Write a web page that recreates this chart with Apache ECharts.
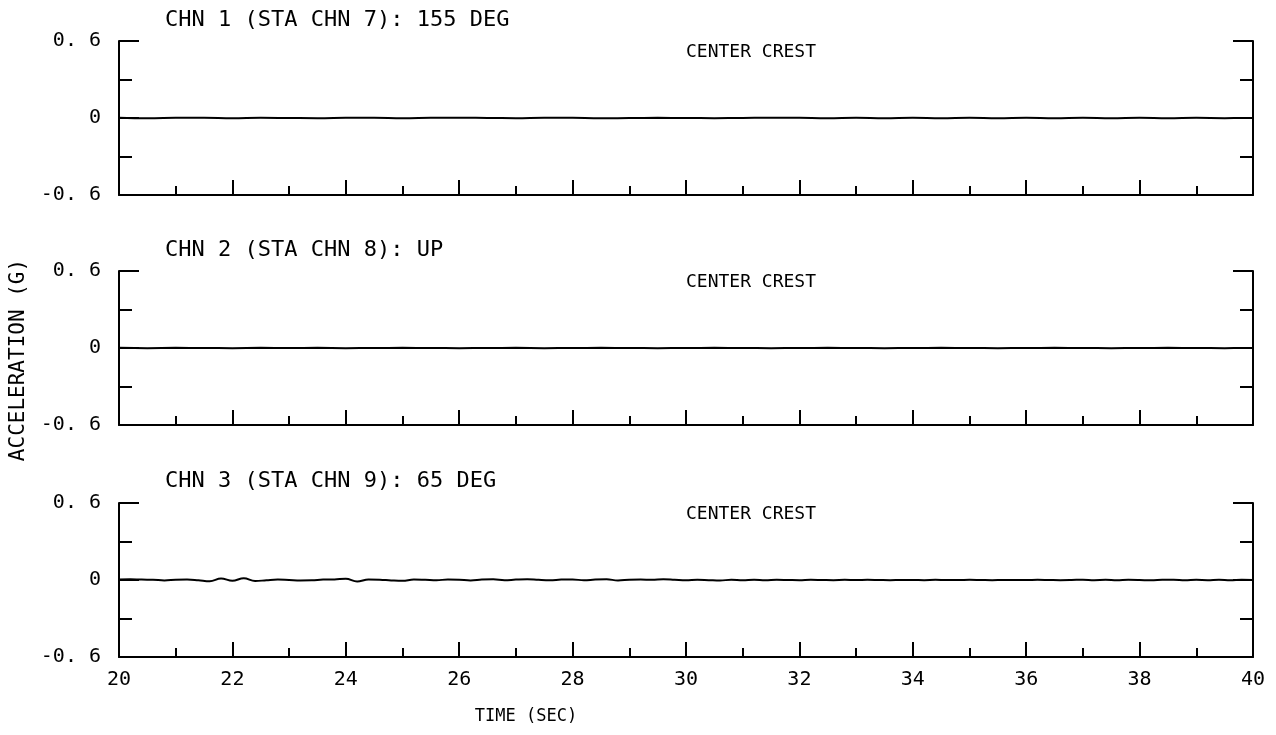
<!DOCTYPE html>
<html>
<head>
<meta charset="utf-8">
<script src="https://cdn.jsdelivr.net/npm/echarts@6/dist/echarts.min.js"></script>
<style>html,body{margin:0;padding:0;background:#fff}#c{width:1276px;height:735px}</style>
</head>
<body>
<div id="c"></div>
<script>
// ---- data ----
var panelTitles = ['CHN 1 (STA CHN 7): 155 DEG', 'CHN 2 (STA CHN 8): UP', 'CHN 3 (STA CHN 9): 65 DEG'];
var panelNote = 'CENTER CREST';
var xTitle = 'TIME (SEC)';
var yTitle = 'ACCELERATION (G)';
var xTickLabels = [20, 22, 24, 26, 28, 30, 32, 34, 36, 38, 40];
var yTickLabels = { '-0.6': '-0. 6', '0': '0', '0.6': '0. 6' };
var tStart = 20;
var stepCoarse = 0.5;
var stepFine = 0.2;
// CHN 1, sampled every 0.5 s from 20 s
var chn1 = [
  0.002, -0.002, 0.001, 0.002, -0.001, 0.002, 0.000, -0.002, 0.001, 0.002,
  -0.002, 0.001, 0.002, 0.000, -0.001, 0.002, 0.001, -0.002, 0.000, 0.001,
  0.000, -0.001, 0.000, 0.002, 0.001, -0.002, 0.002, -0.002, 0.001, -0.002,
  0.002, -0.002, 0.001, -0.002, 0.002, -0.001, 0.002, -0.002, 0.001, -0.001,
  0.000
];
// CHN 2, sampled every 0.5 s from 20 s
var chn2 = [
  0.001, -0.001, 0.001, 0.000, -0.001, 0.001, 0.000, 0.001, -0.001, 0.000,
  0.001, 0.000, -0.001, 0.000, 0.001, -0.001, 0.000, 0.001, 0.000, -0.001,
  0.000, 0.001, 0.000, -0.001, 0.000, 0.001, 0.000, -0.001, 0.000, 0.001,
  0.000, -0.001, 0.000, 0.001, 0.000, -0.001, 0.000, 0.001, 0.000, -0.001,
  0.000
];
// CHN 3, sampled every 0.2 s from 20 s
var chn3 = [
  0.004, 0.006, 0.003, 0.002, -0.003, 0.002, 0.004, -0.002, -0.010, 0.012,
  -0.006, 0.014, -0.008, -0.002, 0.003, 0.000, -0.003, -0.002, 0.003, 0.004,
  0.010, -0.012, 0.004, 0.002, -0.003, -0.006, 0.003, 0.001, -0.002, 0.004,
  0.002, -0.003, 0.003, 0.005, -0.002, 0.003, 0.006, 0.001, -0.002, 0.003,
  0.004, -0.002, 0.003, 0.005, -0.003, 0.002, 0.004, 0.001, 0.006, 0.002,
  -0.002, 0.002, -0.001, -0.004, 0.002, -0.002, 0.001, -0.002, 0.002, 0.000,
  -0.002, 0.001, 0.000, -0.001, 0.001, 0.000, 0.001, 0.000, -0.001, 0.000,
  0.000, -0.001, 0.001, 0.000, 0.000, 0.001, 0.000, -0.001, 0.000, 0.000,
  0.000, 0.001, 0.000, -0.001, 0.000, 0.002, -0.001, 0.001, -0.002, 0.001,
  0.000, -0.002, 0.001, 0.002, -0.002, 0.001, -0.001, 0.002, -0.002, 0.002,
  0.000
];

// ---- build ----
function pairs(vals, step) {
  return vals.map(function (v, i) { return [+(tStart + i * step).toFixed(3), v]; });
}
var seriesData = [pairs(chn1, stepCoarse), pairs(chn2, stepCoarse), pairs(chn3, stepFine)];

var FONT = 'DejaVu Sans Mono';
var gridTops = [41, 271, 503];
var gridH = 154;
var noteY = [52, 282, 514];
var titleY = [20, 250, 481];

var grids = [], xAxes = [], yAxes = [], series = [], graphics = [];
gridTops.forEach(function (top, i) {
  grids.push({ left: 119, right: 23, top: top, height: gridH, containLabel: false });
  xAxes.push({
    type: 'value', gridIndex: i, min: 20, max: 40, interval: 2,
    axisLine: { show: true, onZero: false, lineStyle: { color: '#000', width: 2 } },
    axisTick: { show: true, inside: true, length: 15, lineStyle: { color: '#000', width: 2 } },
    minorTick: { show: true, splitNumber: 2, length: 9, lineStyle: { color: '#000', width: 2 } },
    splitLine: { show: false },
    axisLabel: {
      show: i === 2, margin: 13, color: '#000', fontFamily: FONT, fontSize: 20,
      formatter: function (v) { return xTickLabels.indexOf(v) >= 0 ? String(v) : ''; }
    }
  });
  ['left', 'right'].forEach(function (pos) {
    yAxes.push({
      type: 'value', gridIndex: i, position: pos, min: -0.6, max: 0.6, interval: 0.6,
      axisLine: { show: true, onZero: false, lineStyle: { color: '#000', width: 2 } },
      axisTick: { show: true, inside: true, length: 20, lineStyle: { color: '#000', width: 2 } },
      minorTick: { show: true, splitNumber: 2, length: 13, lineStyle: { color: '#000', width: 2 } },
      splitLine: { show: false },
      axisLabel: {
        show: pos === 'left', margin: 18, color: '#000', fontFamily: FONT, fontSize: 20,
        formatter: function (v) {
          var k = String(Math.round(v * 10) / 10);
          return yTickLabels[k] !== undefined ? yTickLabels[k] : '';
        }
      }
    });
  });
  series.push({
    type: 'line', xAxisIndex: i, yAxisIndex: i * 2, data: seriesData[i],
    showSymbol: false, symbol: 'none', smooth: 0.4, animation: false,
    lineStyle: { color: '#000', width: 2 }
  });
  graphics.push({
    type: 'text', left: 165, top: titleY[i] - 11,
    style: { text: panelTitles[i], font: '22px "' + FONT + '"', fill: '#000' }
  });
  graphics.push({
    type: 'text', x: 751, y: noteY[i],
    style: { text: panelNote, font: '18px "' + FONT + '"', fill: '#000', align: 'center', verticalAlign: 'middle' }
  });
});
graphics.push({
  type: 'text', x: 526, y: 717,
  style: { text: xTitle, font: '17px "' + FONT + '"', fill: '#000', align: 'center', verticalAlign: 'middle' }
});
graphics.push({
  type: 'text', x: 19, y: 360, rotation: Math.PI / 2,
  style: { text: yTitle, font: '21px "' + FONT + '"', fill: '#000', align: 'center', verticalAlign: 'middle' }
});

var chart = echarts.init(document.getElementById('c'), null, { renderer: 'canvas' });
chart.setOption({
  backgroundColor: '#fff',
  animation: false,
  grid: grids,
  xAxis: xAxes,
  yAxis: yAxes,
  series: series,
  graphic: graphics
});
</script>
</body>
</html>
